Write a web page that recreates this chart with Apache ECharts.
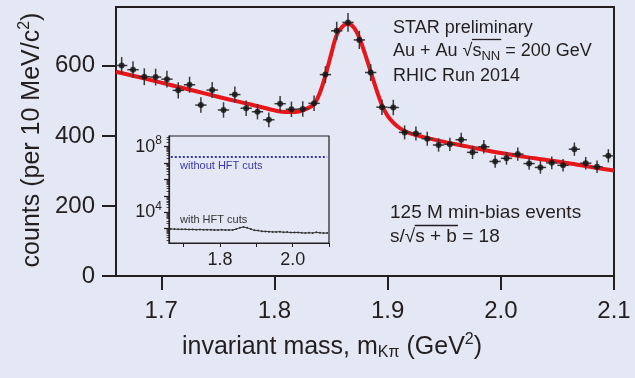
<!DOCTYPE html>
<html><head><meta charset="utf-8">
<script src="https://cdn.jsdelivr.net/npm/echarts@6/dist/echarts.min.js"></script>
<style>html,body{margin:0;padding:0;background:#e4e7f4}#c{width:635px;height:378px}</style>
</head><body><div id="c"></div>
<script>
// ---- data ----
const massBins = [1.665,1.675,1.685,1.695,1.705,1.715,1.725,1.735,1.745,1.755,1.765,1.775,1.785,1.795,1.805,1.815,1.825,1.835,1.845,1.855,1.865,1.875,1.885,1.895,1.905,1.915,1.925,1.935,1.945,1.955,1.965,1.975,1.985,1.995,2.005,2.015,2.025,2.035,2.045,2.055,2.065,2.075,2.085,2.095];
const counts = [601,589,569,568,562,530,546,488,531,474,518,479,469,446,492,476,477,493,575,700,724,674,581,482,481,410,407,392,374,376,389,353,369,327,336,348,321,310,323,316,362,322,312,343];
const countErrors = [24,24,24,24,24,23,23,22,23,22,23,22,22,21,22,22,22,22,24,26,27,26,24,22,22,20,20,20,19,19,20,19,19,18,18,19,18,18,18,18,19,18,18,19];
const fitMass = [1.66,1.68,1.70,1.72,1.74,1.76,1.78,1.80,1.81,1.82,1.83,1.835,1.84,1.845,1.85,1.855,1.86,1.865,1.87,1.875,1.88,1.885,1.89,1.895,1.90,1.905,1.91,1.915,1.92,1.93,1.95,1.97,2.00,2.03,2.06,2.08,2.10];
const fitCounts = [583,568,552,536,520,504,489,473,468,469,480,491,522,572,632,688,712,720,710,680,634,584,533,488,457,438,424,414,407,398,383,370,351,336,322,311,301];
const insetWithCuts = [950,930,910,910,900,880,890,860,870,850,860,840,830,820,840,820,820,830,930,1130,1250,1110,930,780,760,680,670,650,630,630,640,600,610,570,580,580,550,540,550,540,590,550,530,540];
const insetWithoutCuts = [2.35e7,2.35e7,2.35e7,2.35e7,2.35e7,2.35e7,2.35e7,2.35e7,2.35e7,2.35e7,2.35e7,2.35e7,2.35e7,2.35e7,2.35e7,2.35e7,2.35e7,2.35e7,2.35e7,2.35e7,2.35e7,2.35e7,2.35e7,2.35e7,2.35e7,2.35e7,2.35e7,2.35e7,2.35e7,2.35e7,2.35e7,2.35e7,2.35e7,2.35e7,2.35e7,2.35e7,2.35e7,2.35e7,2.35e7,2.35e7,2.35e7,2.35e7,2.35e7,2.35e7];
const xTicks = [1.7,1.8,1.9,2.0,2.1];
const yTicks = [0,200,400,600];
const insetXTicks = [1.7,1.8,1.9,2.0,2.1];
const insetXLabels = [1.8,2.0];
const insetYTicks = [1e3,1e4,1e5,1e6,1e7,1e8];
const insetYLabels = [1e4,1e8];

// ---- styling ----
const BG = '#e4e7f4';
const INK = '#231f20';
const FONT = '"Liberation Sans", Arial, sans-serif';
const RED = '#e8161b';
const BLUE = '#3a3aa6';

const insetMinor = [];
for (let k = 2; k <= 8; k++) for (let m = 2; m <= 9; m++) insetMinor.push(m * Math.pow(10, k));

// text measurement for the overline (radical bar) decorations
const mctx = document.createElement('canvas').getContext('2d');
function tw(str, size) { mctx.font = size + 'px ' + FONT; return mctx.measureText(str).width; }

const topX = 393, botX = 390;
const topSize = 18, botSize = 19;
const ol1Start = topX + tw('Au + Au √', topSize);
const ol1End = ol1Start + tw('s', topSize) + tw('NN', 13);
const ol2Start = botX + tw('s/√', botSize);
const ol2End = ol2Start + tw('s + b', botSize);

const chart = echarts.init(document.getElementById('c'));
const supFmt = v => '{b|10}{s|' + Math.round(Math.log10(v)) + '}';

chart.setOption({
  backgroundColor: BG,
  animation: false,
  grid: [
    {left: 116, top: 7, right: 21, bottom: 102, show: true, borderColor: INK, borderWidth: 2, backgroundColor: 'transparent'},
    {left: 169, top: 136, width: 160, height: 107, show: true, borderColor: INK, borderWidth: 1.2, backgroundColor: BG}
  ],
  xAxis: [
    {gridIndex: 0, type: 'value', min: 1.66, max: 2.1,
     axisLine: {show: true, lineStyle: {color: INK, width: 2}},
     axisTick: {show: true, inside: false, length: 14, customValues: xTicks, lineStyle: {color: INK, width: 2}},
     axisLabel: {customValues: xTicks, margin: 23, fontSize: 24, color: INK, fontFamily: FONT, formatter: v => v.toFixed(1)},
     splitLine: {show: false}},
    {gridIndex: 1, type: 'value', min: 1.66, max: 2.1,
     axisLine: {show: true, lineStyle: {color: INK, width: 1.2}},
     axisTick: {show: true, inside: false, length: 4, customValues: insetXTicks, lineStyle: {color: INK, width: 1}},
     axisLabel: {customValues: insetXLabels, margin: 8, fontSize: 18, color: INK, fontFamily: FONT, formatter: v => v.toFixed(1)},
     splitLine: {show: false}}
  ],
  yAxis: [
    {gridIndex: 0, type: 'value', min: 0, max: 768,
     axisLine: {show: true, lineStyle: {color: INK, width: 2}},
     axisTick: {show: true, inside: false, length: 14, customValues: yTicks, lineStyle: {color: INK, width: 2}},
     axisLabel: {customValues: yTicks, margin: 21, fontSize: 24, color: INK, fontFamily: FONT},
     splitLine: {show: false}},
    {gridIndex: 1, type: 'log', logBase: 10, min: 132, max: 4.5e8, position: 'left',
     axisLine: {show: true, lineStyle: {color: INK, width: 1.2}},
     axisTick: {show: true, inside: false, length: 5, customValues: insetYTicks, lineStyle: {color: INK, width: 1.2}},
     axisLabel: {customValues: insetYLabels, margin: 7, color: INK, fontFamily: FONT, formatter: supFmt,
       rich: {b: {fontSize: 18, fontFamily: FONT, color: INK}, s: {fontSize: 12, fontFamily: FONT, color: INK, padding: [0, 0, 12, 0]}}},
     splitLine: {show: false}},
    {gridIndex: 1, type: 'log', logBase: 10, min: 132, max: 4.5e8, position: 'left',
     axisLine: {show: false},
     axisTick: {show: true, inside: false, length: 2.5, customValues: insetMinor, lineStyle: {color: INK, width: 0.8}},
     axisLabel: {show: false},
     splitLine: {show: false}}
  ],
  series: [
    {type: 'line', xAxisIndex: 0, yAxisIndex: 0, data: fitMass.map((x, i) => [x, fitCounts[i]]),
     smooth: 0.35, showSymbol: false, lineStyle: {color: RED, width: 4}, z: 2},
    {type: 'custom', xAxisIndex: 0, yAxisIndex: 0, z: 3,
     data: massBins.map((x, i) => [x, counts[i], countErrors[i]]),
     renderItem: (params, api) => {
       const x = api.value(0), y = api.value(1), e = api.value(2);
       const t = api.coord([x, y + e]), b = api.coord([x, y - e]);
       const l = api.coord([x - 0.005, y]), r = api.coord([x + 0.005, y]);
       const st = {stroke: '#3a3a3a', lineWidth: 1.5};
       return {type: 'group', children: [
         {type: 'line', shape: {x1: t[0], y1: t[1], x2: b[0], y2: b[1]}, style: st},
         {type: 'line', shape: {x1: l[0], y1: l[1], x2: r[0], y2: r[1]}, style: st}
       ]};
     }},
    {type: 'scatter', xAxisIndex: 0, yAxisIndex: 0, z: 4, symbolSize: 6,
     itemStyle: {color: '#111'}, data: massBins.map((x, i) => [x, counts[i]])},
    {type: 'line', xAxisIndex: 1, yAxisIndex: 1, z: 4, data: massBins.map((x, i) => [x, insetWithoutCuts[i]]),
     showSymbol: false, lineStyle: {color: BLUE, width: 2, type: 'dotted'}},
    {type: 'line', xAxisIndex: 1, yAxisIndex: 1, z: 4, data: massBins.map((x, i) => [x, insetWithCuts[i]]),
     symbol: 'circle', symbolSize: 2, itemStyle: {color: '#333'}, lineStyle: {color: '#333', width: 1}}
  ],
  graphic: [
    {type: 'text', x: 32, y: 140, rotation: Math.PI / 2, z: 10,
     style: {text: 'counts (per 10 MeV/c{s|2})', fill: INK, font: '25px ' + FONT, align: 'center', verticalAlign: 'middle',
       rich: {s: {fontSize: 16, fontFamily: FONT, fill: INK, padding: [0, 0, 14, 0]}}}},
    {type: 'text', x: 332, y: 347, z: 10,
     style: {text: 'invariant mass, m{d|Kπ} (GeV{s|2})', fill: INK, font: '25px ' + FONT, align: 'center', verticalAlign: 'middle',
       rich: {d: {fontSize: 16, fontFamily: FONT, fill: INK, padding: [12, 0, 0, 0]}, s: {fontSize: 16, fontFamily: FONT, fill: INK, padding: [0, 0, 14, 0]}}}},
    {type: 'text', x: topX, y: 28.5, z: 10, style: {text: 'STAR preliminary', fill: INK, font: topSize + 'px ' + FONT, align: 'left', verticalAlign: 'middle'}},
    {type: 'text', x: topX, y: 51, z: 10,
     style: {text: 'Au + Au √s{d|NN} = 200 GeV', fill: INK, font: topSize + 'px ' + FONT, align: 'left', verticalAlign: 'middle',
       rich: {d: {fontSize: 13, fontFamily: FONT, fill: INK, padding: [10, 0, 0, 0]}}}},
    {type: 'line', z: 10, shape: {x1: ol1Start - 0.5, y1: 39.5, x2: ol1End + 1, y2: 39.5}, style: {stroke: INK, lineWidth: 1.3}},
    {type: 'text', x: topX, y: 76, z: 10, style: {text: 'RHIC Run 2014', fill: INK, font: topSize + 'px ' + FONT, align: 'left', verticalAlign: 'middle'}},
    {type: 'text', x: botX, y: 213, z: 10, style: {text: '125 M min-bias events', fill: INK, font: botSize + 'px ' + FONT, align: 'left', verticalAlign: 'middle'}},
    {type: 'text', x: botX, y: 237, z: 10, style: {text: 's/√s + b = 18', fill: INK, font: botSize + 'px ' + FONT, align: 'left', verticalAlign: 'middle'}},
    {type: 'line', z: 10, shape: {x1: ol2Start - 0.5, y1: 225.5, x2: ol2End + 1, y2: 225.5}, style: {stroke: INK, lineWidth: 1.3}},
    {type: 'text', x: 180, y: 166, z: 10, style: {text: 'without HFT cuts', fill: BLUE, font: '11px ' + FONT, align: 'left', verticalAlign: 'middle'}},
    {type: 'text', x: 180, y: 220, z: 10, style: {text: 'with HFT cuts', fill: '#333', font: '11px ' + FONT, align: 'left', verticalAlign: 'middle'}}
  ]
});
</script></body></html>
